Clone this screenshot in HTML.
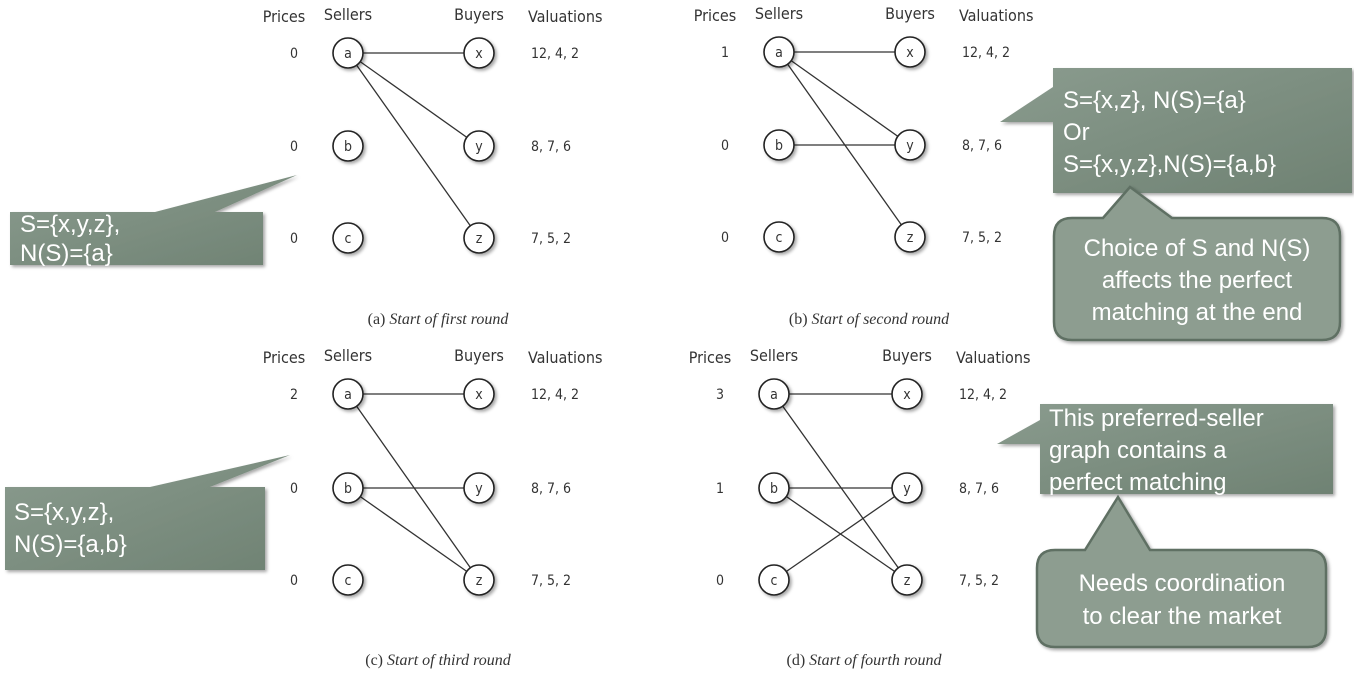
<!DOCTYPE html>
<html><head><meta charset="utf-8"><style>
body{margin:0;background:#fff;width:1354px;height:685px;overflow:hidden;font-family:"Liberation Sans",sans-serif}
svg{position:absolute;left:0;top:0}
.lbl{font-family:"DejaVu Sans Condensed","Liberation Sans",sans-serif;font-size:16px;fill:#333}
.val{font-family:"DejaVu Sans Condensed","Liberation Sans",sans-serif;font-size:14px;fill:#333}
.cap{font-family:"Liberation Serif",serif;font-size:16px;fill:#333}
.co{font-family:"Liberation Sans",sans-serif;font-size:24px;fill:#fff}
</style></head><body>
<svg id="s" width="1354" height="685">
<defs>
<linearGradient id="g" x1="0" y1="0" x2="1" y2="1"><stop offset="0" stop-color="#8a9b8e"/><stop offset="1" stop-color="#6f8273"/></linearGradient>
<filter id="sh" x="-20%" y="-20%" width="150%" height="150%"><feDropShadow dx="2" dy="2" stdDeviation="1.5" flood-color="#000" flood-opacity="0.35"/></filter>
</defs>
</svg>
<script>
const panelOrigins=[[348,53],[779,52],[348,394],[774,394]];
const prices=[[0,0,0],[1,0,0],[2,0,0],[3,1,0]];
const valuations=["12, 4, 2","8, 7, 6","7, 5, 2"];
const sellers=["a","b","c"];
const buyers=["x","y","z"];
const captions=["(a) Start of first round","(b) Start of second round","(c) Start of third round","(d) Start of fourth round"];
const edges=[[[0,0],[0,1],[0,2]],[[0,0],[0,1],[0,2],[1,1]],[[0,0],[0,2],[1,1],[1,2]],[[0,0],[0,2],[1,1],[1,2],[2,1]]];
const NS="http://www.w3.org/2000/svg";
const svg=document.getElementById('s');
function mk(t,a,txt){const e=document.createElementNS(NS,t);for(const k in a)e.setAttribute(k,a[k]);if(txt!==undefined)e.textContent=txt;svg.appendChild(e);return e;}
const colGap=131,rowGap=[93,92];
panelOrigins.forEach((o,p)=>{
  const sx=o[0],bx=o[0]+colGap+(p==3?2:0);
  const rowY=i=>o[1]+(i==0?0:i==1?rowGap[0]:rowGap[0]+rowGap[1])+(p>=2&&i>0?1:0);
  const hy=o[1]-31;
  let e;
  e=mk('text',{x:sx-64,y:hy,class:'lbl','text-anchor':'middle'},'Prices');
  
  
  e=mk('text',{x:sx,y:hy-2,class:'lbl','text-anchor':'middle'},'Sellers');
  
  
  e=mk('text',{x:bx,y:hy-2,class:'lbl','text-anchor':'middle'},'Buyers');
  
  
  e=mk('text',{x:bx+49,y:hy,class:'lbl'},'Valuations');
  
  
  edges[p].forEach(ed=>{
    e=mk('line',{x1:sx,y1:rowY(ed[0]),x2:bx,y2:rowY(ed[1]),stroke:'#333','stroke-width':1.3});
    
    
  });
  for(let i=0;i<3;i++){
    const y=rowY(i);
    e=mk('text',{x:sx-54,y:y+5,class:'val','text-anchor':'middle'},String(prices[p][i]));
    
    
    e=mk('circle',{cx:sx,cy:y,r:15,fill:'#fff',stroke:'#222','stroke-width':1.6,filter:'url(#sh)'});
    
    
    mk('text',{x:sx,y:y+5,class:'val','text-anchor':'middle'},sellers[i]);
    e=mk('circle',{cx:bx,cy:y,r:15,fill:'#fff',stroke:'#222','stroke-width':1.6,filter:'url(#sh)'});
    
    
    mk('text',{x:bx,y:y+5,class:'val','text-anchor':'middle'},buyers[i]);
    e=mk('text',{x:bx+52,y:y+5,class:'val'},valuations[i]);
    
    
  }
  const cy=p<2?324:665;
  e=mk('text',{x:sx+90,y:cy,class:'cap','text-anchor':'middle'});
  
  
  const m=captions[p].match(/^(\(.\)) (.*)$/);
  const t1=document.createElementNS(NS,'tspan');t1.textContent=m[1]+' ';e.appendChild(t1);
  const t2=document.createElementNS(NS,'tspan');t2.setAttribute('font-style','italic');t2.textContent=m[2];e.appendChild(t2);
});
function callout(name,path,lines,x,y,lh,anchor){
  const g=document.createElementNS(NS,'g');svg.appendChild(g);
  
  
  const pa=document.createElementNS(NS,'path');pa.setAttribute('d',path);pa.setAttribute('fill','url(#g)');pa.setAttribute('filter','url(#sh)');g.appendChild(pa);
  lines.forEach((l,i)=>{const t=document.createElementNS(NS,'text');t.setAttribute('x',x);t.setAttribute('y',y+i*lh);t.setAttribute('class','co');if(anchor)t.setAttribute('text-anchor',anchor);t.textContent=l;g.appendChild(t);});
  return pa;
}
callout('callout-round-a','M10,212 L155,212 L297,175 L215,212 L263,212 L263,265 L10,265 Z',['S={x,y,z},','N(S)={a}'],20,232,29);
callout('callout-round-c','M5,487 L150,487 L290,455 L210,487 L265,487 L265,570 L5,570 Z',['S={x,y,z},','N(S)={a,b}'],14,520,32);
callout('callout-round-b','M1053,68 L1352,68 L1352,193 L1053,193 L1053,122 L1000,122 L1053,87 Z',['S={x,z}, N(S)={a}','Or','S={x,y,z},N(S)={a,b}'],1063,108,32);
let r=callout('callout-choice','M1072,218 L1103,218 L1130,187 L1172,218 L1322,218 Q1340,218 1340,236 L1340,322 Q1340,340 1322,340 L1072,340 Q1054,340 1054,322 L1054,236 Q1054,218 1072,218 Z',['Choice of S and N(S)','affects the perfect','matching at the end'],1197,256,32,'middle');
r.setAttribute('fill','#8d9d90');r.setAttribute('stroke','#5f7064');r.setAttribute('stroke-width','2.5');
callout('callout-round-d','M1040,404 L1333,404 L1333,494 L1040,494 L1040,444 L997,444 L1040,420 Z',['This preferred-seller','graph contains a','perfect matching'],1049,426,32);
r=callout('callout-coordination','M1055,550 L1085,550 L1118,497 L1150,550 L1308,550 Q1326,550 1326,568 L1326,629 Q1326,647 1308,647 L1055,647 Q1037,647 1037,629 L1037,568 Q1037,550 1055,550 Z',['Needs coordination','to clear the market'],1182,591,33,'middle');
r.setAttribute('fill','#8d9d90');r.setAttribute('stroke','#5f7064');r.setAttribute('stroke-width','2.5');
</script>
</body></html>
